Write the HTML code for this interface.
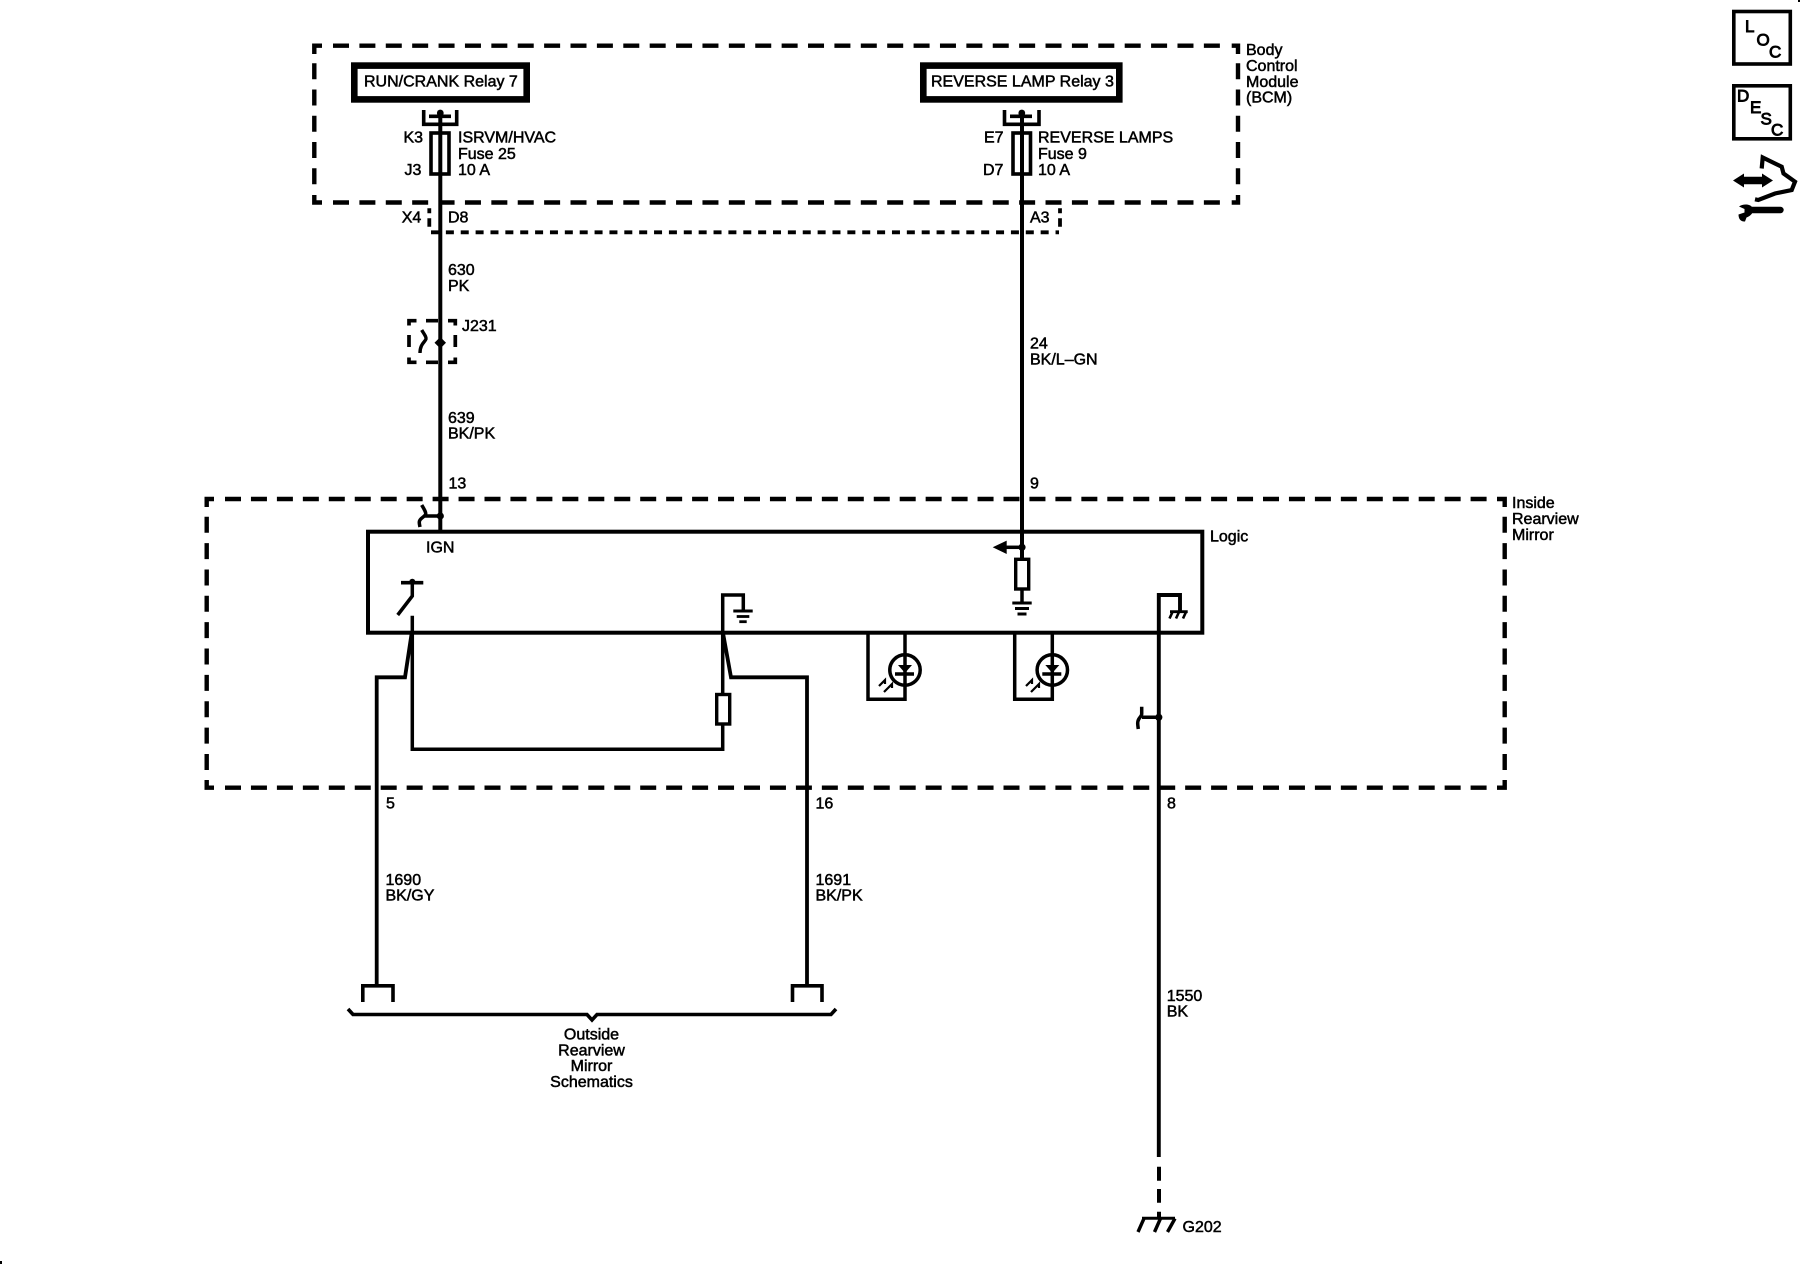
<!DOCTYPE html>
<html>
<head>
<meta charset="utf-8">
<title>Inside Rearview Mirror Schematic</title>
<style>
html,body{margin:0;padding:0;background:#fff;width:1800px;height:1280px;overflow:hidden}
svg{display:block}
text{font-family:"Liberation Sans",Arial,sans-serif;font-size:16px;fill:#000;stroke:#000;stroke-width:.5px}
.m{text-anchor:middle}
.i{font-size:17px;stroke-width:.9px}
</style>
</head>
<body>
<svg width="1800" height="1280" viewBox="0 0 1800 1280" xmlns="http://www.w3.org/2000/svg">
<rect width="1800" height="1280" fill="#fff"/>

<g fill="none" stroke="#000">
<!-- BCM dashed box -->
<g stroke-width="4.4">
<path d="M322 45.7H314.3V54M1231.7 45.7H1238V54M322 202.5H314.3V195M1231.7 202.5H1238V195"/>
<path d="M333 45.7H1221" stroke-dasharray="16 10.39"/>
<path d="M333 202.5H1221" stroke-dasharray="16 10.39"/>
<path d="M314.3 63.3V186" stroke-dasharray="16 10.25"/>
<path d="M1238 63.3V186" stroke-dasharray="16 10.25"/>
</g>
<!-- X4 dashed connector -->
<g stroke-width="3.8">
<path d="M429.3 208.3V213.3M429.3 218.3V226.7M1060 208.3V213.3M1060 218.3V226.7"/>
<path d="M431 232.3H1059" stroke-dasharray="8 6.87"/>
</g>
<!-- Relay boxes -->
<rect x="354.3" y="65.6" width="172.4" height="33.8" stroke-width="6.6"/>
<rect x="923.3" y="65.6" width="196" height="33.8" stroke-width="6.6"/>
<!-- Relay connectors -->
<g stroke-width="3.6">
<path d="M423.7 110V124.3H456.7V110M429 116.3H451"/>
<path d="M1004.5 110V124.3H1039V110M1010 116.3H1032"/>
<rect x="431" y="133" width="18" height="41"/>
<rect x="1013" y="133" width="17.5" height="41"/>
</g>
<!-- Wires from BCM -->
<path d="M440.3 112V532M1022 112V559" stroke-width="4"/>
<!-- J231 dashed -->
<g stroke-width="3.7">
<path d="M416.5 320.7H409V325.5M409 335V347M409 357.5V362.3H416.5M426 320.7H438M426 362.3H438M448 320.7H455.3V325.5M455.3 335V347M455.3 357.5V362.3H448"/>
<path d="M421.7 330C424 334 426.5 337 426 339C425 342 420 344 420 353" stroke-width="3.4"/>
</g>
<!-- Inside Rearview Mirror dashed -->
<g stroke-width="4.4">
<path d="M214 499H206.7V507M1497 499H1504.7V507M214 787.7H206.7V780M1497 787.7H1504.7V780"/>
<path d="M225 499H1487" stroke-dasharray="16 9.95"/>
<path d="M225 787.7H1487" stroke-dasharray="16 9.95"/>
<path d="M206.7 516.7V770" stroke-dasharray="16 10.37"/>
<path d="M1504.7 516.7V770" stroke-dasharray="16 10.37"/>
</g>
<!-- Logic box -->
<rect x="368" y="531.7" width="834.3" height="101" stroke-width="4"/>
<!-- IGN connector -->
<path d="M424 516H440M421.7 505C424 509 426 512 425.7 514C425 517 419.5 518 419.3 522C419.2 524 419.6 525 420 527" stroke-width="3.5"/>
<!-- Switch -->
<path d="M401 582.7H423.3" stroke-width="3.6"/>
<path d="M412.3 582V596L397.7 615M412.3 615.7V749.3H722.7V595H743.3V610" stroke-width="3.5"/>
<!-- Outputs -->
<path d="M411.7 633L405 677.3H376.7V985.8" stroke-width="3.8"/>
<path d="M723 633L731 677.3H807V985.8" stroke-width="3.8"/>
<rect x="716.7" y="694.5" width="13" height="29.5" fill="#fff" stroke-width="3.4"/>
<!-- Signal ground -->
<path d="M733.3 611H752.7" stroke-width="3"/>
<path d="M736.7 616.5H749.3" stroke-width="2.8"/>
<path d="M739.3 621.7H746.7" stroke-width="2.8"/>
<!-- Wire 9 internals -->
<path d="M1006 547.3H1022" stroke-width="3.5"/>
<rect x="1015.7" y="559.3" width="13" height="29.7" fill="#fff" stroke-width="3.4"/>
<path d="M1022 589V603" stroke-width="3.5"/>
<path d="M1012.3 603H1031.7" stroke-width="3"/>
<path d="M1015 608.5H1029" stroke-width="3"/>
<path d="M1017.5 614H1026.5" stroke-width="3"/>
<!-- LEDs -->
<g stroke-width="3.5">
<path d="M868 632.7V699.3H905V632.7"/>
<path d="M1014.7 632.7V699.3H1052.3V632.7"/>
<circle cx="905" cy="670" r="15.2"/>
<circle cx="1052.3" cy="670" r="15.2"/>
<path d="M895 674H914M1042.3 674H1061.3"/>
</g>
<g stroke-width="2.2">
<path d="M885 680L879 686M892 684L884 692M881 684L885 680L885 684M888 688L892 684L892 688"/>
<path d="M1032 680L1026 686M1039 684L1031 692M1028 684L1032 680L1032 684M1035 688L1039 684L1039 688"/>
</g>
<!-- Wire 8 -->
<path d="M1158.8 1157V595H1180V611.7" stroke-width="3.9"/>
<path d="M1170 611.7H1187.7" stroke-width="2.8"/>
<path d="M1172.5 612L1169.5 618.5M1179 612L1176 618.5M1186 612L1183 618.5" stroke-width="2.6"/>
<path d="M1142 717.3H1158M1141.7 706.7V714C1141.7 717 1137.7 718 1137.7 723C1137.7 725 1138 727 1138.3 729" stroke-width="3.5"/>
<path d="M1159 1166.7V1180.7M1159 1189V1202.7M1159 1211.7V1218.3" stroke-width="4"/>
<path d="M1142 1218.3H1175" stroke-width="3"/>
<path d="M1144 1218.5L1138 1232M1160.5 1218.5L1154.5 1232M1175 1218.5L1167.5 1232" stroke-width="3.4"/>
<!-- Outside connectors -->
<path d="M362.8 1002V985.8H393V1002M792.5 1002V985.8H822V1002" stroke-width="3.6"/>
<path d="M348 1009L353 1014.5H587L592 1020L597 1014.5H831L836 1009" stroke-width="3.6"/>
<!-- Icon boxes -->
<rect x="1733.8" y="11.5" width="56.5" height="52.5" stroke-width="3.6"/>
<rect x="1733.8" y="85.8" width="56.5" height="53" stroke-width="3.6"/>
<path d="M1761.7 168.5L1762.7 157.5L1775 163.5L1781.7 166.7L1783.5 173.5L1795 181.7L1791.7 190L1775 193.5L1758.3 200L1755 199.3" stroke-width="4.2"/>
<path d="M1748 210H1780.5" stroke-width="6.4" stroke-linecap="round"/>
</g>

<g fill="#000" stroke="none">
<!-- dots -->
<circle cx="440.3" cy="113" r="3.4"/>
<circle cx="1021.8" cy="113" r="3.4"/>
<path d="M434.5 342.7L440.3 337L446 342.7L440.3 348.5Z"/>
<circle cx="440.3" cy="516" r="3.6"/>
<circle cx="412.3" cy="581.7" r="3"/>
<circle cx="1022" cy="547.3" r="3.6"/>
<circle cx="1158.8" cy="717.3" r="3.6"/>
<!-- arrow head -->
<path d="M992.7 547.3L1006.7 540.6V554Z"/>
<!-- diode triangles -->
<path d="M898 665H912L905 673Z"/>
<path d="M1045.3 665H1059.3L1052.3 673Z"/>
<!-- double arrow icon -->
<path d="M1733 180.5L1744 173.5V176.7H1762V173.5L1773 180.5L1762 187.5V184.3H1744V187.5Z"/>
<!-- wrench head -->
<path d="M1739 206.5C1743 203.5 1750 204 1752 207L1752 213.5C1750 216 1748 217 1746.5 217.5L1745 221.5C1741 222 1738.5 219 1738.5 214.5L1744.5 212.5L1744.5 209Z"/>
<!-- stray marks -->
<rect x="1798" y="0" width="2" height="2"/>
<rect x="0" y="1261" width="2" height="3"/>
</g>

<!-- Labels -->
<text x="364" y="86.7">RUN/CRANK Relay 7</text>
<text x="931" y="86.7">REVERSE LAMP Relay 3</text>
<text x="1246" y="55">Body</text>
<text x="1246" y="71">Control</text>
<text x="1246" y="87">Module</text>
<text x="1246" y="102.7">(BCM)</text>
<text x="403.5" y="142.5">K3</text>
<text x="404.5" y="175">J3</text>
<text x="458" y="142.5">ISRVM/HVAC</text>
<text x="458" y="159">Fuse 25</text>
<text x="458" y="175">10 A</text>
<text x="984" y="142.5">E7</text>
<text x="983" y="175">D7</text>
<text x="1038" y="142.5">REVERSE LAMPS</text>
<text x="1038" y="159">Fuse 9</text>
<text x="1038" y="175">10 A</text>
<text x="401.7" y="222.3">X4</text>
<text x="448" y="222.3">D8</text>
<text x="1030" y="222.3">A3</text>
<text x="448" y="275">630</text>
<text x="448" y="291">PK</text>
<text x="462" y="331">J231</text>
<text x="1030" y="348.3">24</text>
<text x="1030" y="364.3">BK/L–GN</text>
<text x="448" y="423">639</text>
<text x="448" y="438.5">BK/PK</text>
<text x="448.5" y="488.5">13</text>
<text x="1030" y="488.5">9</text>
<text x="1512" y="508">Inside</text>
<text x="1512" y="524">Rearview</text>
<text x="1512" y="540">Mirror</text>
<text x="426" y="552.7">IGN</text>
<text x="1210" y="541.7">Logic</text>
<text x="386" y="808.5">5</text>
<text x="815.5" y="808.5">16</text>
<text x="1167" y="808.5">8</text>
<text x="385.5" y="885">1690</text>
<text x="385.5" y="900.5">BK/GY</text>
<text x="815.5" y="885">1691</text>
<text x="815.5" y="900.5">BK/PK</text>
<text x="1166.7" y="1001">1550</text>
<text x="1166.7" y="1016.7">BK</text>
<text class="m" x="591.5" y="1039.5">Outside</text>
<text class="m" x="591.5" y="1055.5">Rearview</text>
<text class="m" x="591.5" y="1071">Mirror</text>
<text class="m" x="591.5" y="1087">Schematics</text>
<text x="1182.5" y="1232">G202</text>
<text class="i" x="1745" y="32">L</text>
<text class="i" x="1756.5" y="45.5">O</text>
<text class="i" x="1769" y="57.5">C</text>
<text class="i" x="1737" y="101.5">D</text>
<text class="i" x="1750" y="113">E</text>
<text class="i" x="1760.5" y="124.5">S</text>
<text class="i" x="1771" y="135.5">C</text>
</svg>
</body>
</html>
